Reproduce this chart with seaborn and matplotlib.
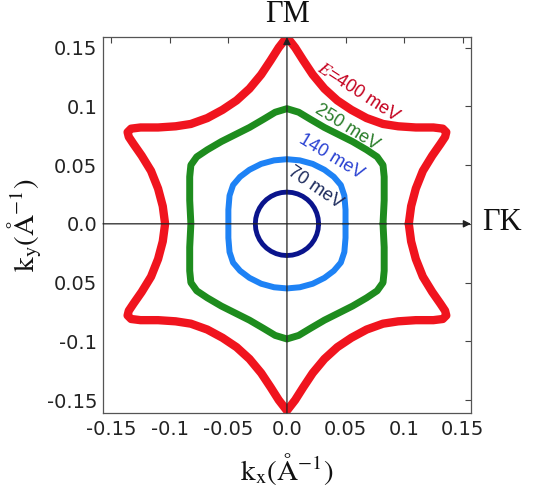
import numpy as np
import pandas as pd
import matplotlib
matplotlib.use("Agg")
import matplotlib.pyplot as plt
import seaborn as sns

# ---- data: first-quadrant traces of each constant-energy contour (kx, ky in 1/Angstrom)
red_x = [0.104, 0.106, 0.110, 0.116, 0.124, 0.131, 0.135, 0.136, 0.133, 0.125, 0.110, 0.095,
         0.082, 0.068, 0.055, 0.043, 0.032, 0.022, 0.014, 0.007, 0.000]
red_y = [0.000, 0.015, 0.030, 0.045, 0.058, 0.068, 0.074, 0.078, 0.081, 0.082, 0.082, 0.083,
         0.085, 0.090, 0.097, 0.105, 0.115, 0.127, 0.139, 0.150, 0.159]

green_x = [0.082, 0.083, 0.083, 0.082, 0.077, 0.068, 0.056, 0.044, 0.032, 0.020, 0.010, 0.000]
green_y = [0.000, 0.020, 0.040, 0.050, 0.057, 0.063, 0.070, 0.076, 0.082, 0.089, 0.095, 0.098]

lblue_x = [0.050, 0.050, 0.049, 0.046, 0.040, 0.032, 0.022, 0.011, 0.000]
lblue_y = [0.000, 0.012, 0.024, 0.033, 0.040, 0.046, 0.051, 0.054, 0.055]

navy_x = [0.0270, 0.0266, 0.0254, 0.0234, 0.0207, 0.0174, 0.0135, 0.0092, 0.0047, 0.0000]
navy_y = [0.0000, 0.0047, 0.0092, 0.0135, 0.0174, 0.0207, 0.0234, 0.0254, 0.0266, 0.0270]

energies = ["$E$=400 meV", "250 meV", "140 meV", "70 meV"]
xtick_vals = [-0.15, -0.1, -0.05, 0.0, 0.05, 0.1, 0.15]
xtick_labels = ["-0.15", "-0.1", "-0.05", "0.0", "0.05", "0.1", "0.15"]
ytick_vals = [0.15, 0.1, 0.05, 0.0, -0.05, -0.1, -0.15]
ytick_labels = ["0.15", "0.1", "0.05", "0.0", "0.05", "-0.1", "-0.15"]


def full_contour(qx, qy):
    qx = np.asarray(qx); qy = np.asarray(qy)
    xs = np.concatenate([qx, -qx[::-1], -qx, qx[::-1]])
    ys = np.concatenate([qy, qy[::-1], -qy, -qy[::-1]])
    return pd.DataFrame({"kx": xs, "ky": ys})


sns.set_style("white")
plt.rcParams["font.family"] = ["DejaVu Sans"]
plt.rcParams["mathtext.fontset"] = "stix"

fig = plt.figure(figsize=(5.45, 4.87), dpi=100)
ax = fig.add_axes([0.189, 0.152, 0.675, 0.772])

styles = [
    (red_x, red_y, "#f0141e", 6.0),
    (green_x, green_y, "#1e8c1e", 5.0),
    (lblue_x, lblue_y, "#1e82f5", 4.3),
    (navy_x, navy_y, "#0a148c", 3.5),
]
for qx, qy, col, lw in styles:
    df = full_contour(qx, qy)
    sns.lineplot(data=df, x="kx", y="ky", sort=False, estimator=None, color=col,
                 linewidth=lw, ax=ax, solid_joinstyle="round", solid_capstyle="round")

xl = (-0.157, 0.157)
yl = (-0.161, 0.159)
ax.set_xlim(*xl)
ax.set_ylim(*yl)
ax.set_xticks(xtick_vals)
ax.set_xticklabels(xtick_labels)
ax.set_yticks(ytick_vals)
ax.set_yticklabels(ytick_labels)
ax.tick_params(direction="in", length=4, width=0.8, color="#444444", top=True, right=True,
               labelsize=14, labelcolor="#222222")
ax.tick_params(axis="x", pad=5)
ax.tick_params(axis="y", pad=4)
for s in ax.spines.values():
    s.set_color("#555555")
    s.set_linewidth(0.9)

ax.set_xlabel(r"$\mathrm{k_x(\AA^{-1})}$", fontsize=21, color="#111111")
ax.set_ylabel(r"$\mathrm{k_y(\AA^{-1})}$", fontsize=21, color="#111111")
ax.xaxis.set_label_coords(0.5, -0.1)
ax.yaxis.set_label_coords(-0.16, 0.5)

# axes arrows
ax.annotate("", xy=(xl[1], 0), xytext=(xl[0], 0),
            arrowprops=dict(arrowstyle="-|>", color="#222222", lw=0.9, mutation_scale=11,
                            shrinkA=0, shrinkB=0), annotation_clip=False, zorder=10)
ax.annotate("", xy=(0, yl[1]), xytext=(0, yl[0]),
            arrowprops=dict(arrowstyle="-|>", color="#222222", lw=0.9, mutation_scale=11,
                            shrinkA=0, shrinkB=0), annotation_clip=False, zorder=10)

fig.text(288 / 545, 1 - 15 / 487, "ΓM", ha="center", va="center",
         family="Liberation Serif", fontsize=22, color="#111111")
fig.text(502 / 545, 1 - 223 / 487, "ΓK", ha="center", va="center",
         family="Liberation Serif", fontsize=22, color="#111111")

label_pos = [(0.061, 0.112, -33), (0.051, 0.082, -32), (0.038, 0.057, -31), (0.024, 0.031, -34)]
label_cols = ["#c4001e", "#2a7d2a", "#2840d2", "#1c2a5c"]
for txt, (lx, ly, rot), c in zip(energies, label_pos, label_cols):
    ax.text(lx, ly, txt, color=c, rotation=rot, ha="center", va="center",
            rotation_mode="anchor", fontsize=13, family="Liberation Sans", zorder=11)

fig.savefig("out.png", dpi=100)
